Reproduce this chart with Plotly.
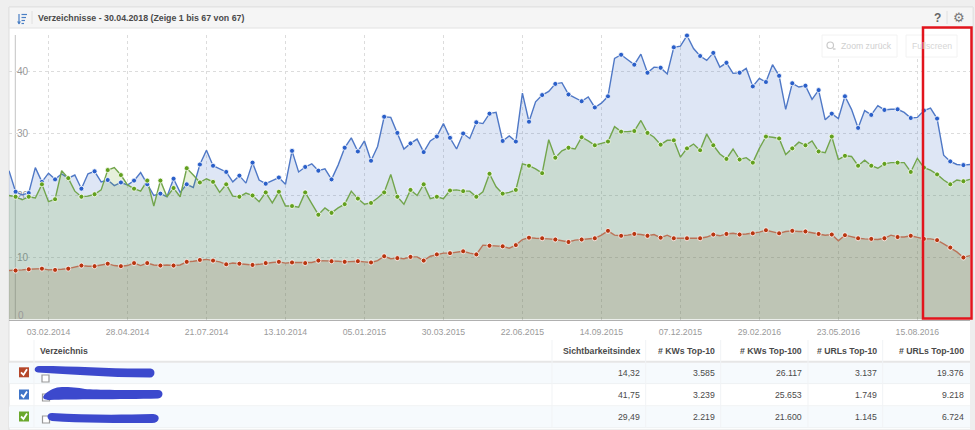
import pandas as pd
import plotly.graph_objects as go

W, H = 975, 430
START_DATE = "2013-12-23"

blue = [24.0,20.6,20.1,20.4,24.5,22.2,23.6,22.6,23.5,22.8,23.3,21.1,23.5,23.9,22.2,22.5,21.6,22.1,21.7,22.4,
        23.7,21.8,20.0,20.3,19.8,22.7,20.5,21.8,21.3,25.0,27.3,24.8,24.3,23.8,22.2,23.2,22.0,25.3,22.5,21.9,
        22.4,22.9,21.8,27.2,23.8,24.6,25.1,24.0,24.3,22.6,24.9,27.7,29.3,27.1,28.8,25.6,27.9,32.7,32.6,30.1,
        27.5,28.4,29.1,27.0,28.8,29.5,31.6,29.3,27.5,30.0,29.2,31.8,31.6,33.2,33.4,28.8,29.6,28.7,36.5,31.9,
        35.1,36.2,36.8,38.0,38.2,36.3,35.8,35.2,35.9,34.2,34.9,36.0,42.1,42.7,41.9,41.1,42.8,39.8,40.7,40.6,
        39.6,43.9,44.1,45.8,43.7,42.5,41.8,43.0,40.7,41.4,39.7,39.8,40.5,37.6,38.9,38.3,41.1,39.3,33.9,38.1,
        37.5,37.7,35.5,37.0,32.2,33.2,32.4,36.0,33.9,30.9,33.7,33.0,34.5,33.8,33.9,33.9,33.4,32.5,32.6,33.7,
        34.1,32.4,26.5,25.5,25.0,24.9,25.0]
green = [20.0,19.8,19.3,19.8,19.6,21.8,19.0,19.4,24.0,22.8,20.7,19.8,19.9,20.2,20.9,24.1,24.5,23.3,21.7,21.1,
         20.7,22.4,18.3,22.4,19.8,21.2,19.8,24.4,23.3,22.1,22.7,22.2,20.5,21.8,19.9,19.8,20.4,20.0,19.0,20.5,
         18.8,20.6,18.3,18.3,18.1,20.5,18.7,16.9,18.0,17.2,18.0,18.6,20.7,19.5,18.6,18.8,19.6,20.5,23.4,19.8,
         18.6,20.9,20.0,21.8,19.5,19.8,19.5,20.8,20.9,20.7,20.7,19.8,20.6,23.5,21.4,20.3,20.5,20.9,25.1,24.8,
         24.3,23.6,29.0,26.1,27.2,27.7,27.5,29.4,28.8,28.1,28.4,28.7,31.1,30.3,30.3,30.4,32.1,30.1,29.4,28.2,
         28.9,28.9,26.2,27.6,28.3,27.3,29.9,28.1,26.7,25.9,27.5,25.8,26.1,25.3,27.6,29.5,29.4,29.2,26.6,27.6,
         28.6,28.1,28.8,27.1,26.9,29.5,25.8,26.4,26.3,24.8,25.7,24.8,24.4,25.1,25.3,25.3,25.3,23.8,26.0,24.5,
         24.1,23.4,22.5,21.8,22.5,22.3,22.6]
red = [7.9,7.9,8.0,8.1,8.2,8.2,8.0,8.0,8.1,8.2,8.5,8.7,8.6,8.6,8.8,9.0,8.7,8.6,8.7,9.1,
       8.7,9.1,8.8,8.7,8.8,8.7,8.8,9.3,9.4,9.6,9.7,9.5,9.3,8.9,9.1,9.0,8.9,8.8,8.9,9.1,
       9.2,9.3,9.1,9.2,9.2,9.1,9.2,9.5,9.5,9.4,9.4,9.3,9.4,9.4,9.3,9.2,9.5,10.2,9.8,9.9,
       9.8,10.1,10.1,9.5,10.2,10.5,10.7,10.7,10.9,11.0,10.7,10.5,12.0,11.9,11.9,11.8,11.5,12.0,12.9,13.2,
       13.1,13.1,13.0,12.9,12.7,12.5,12.8,12.9,13.1,13.1,13.6,14.3,13.6,13.5,13.6,13.8,13.7,13.5,13.7,13.2,
       13.6,13.1,13.1,13.1,13.1,13.1,13.3,13.7,13.5,13.8,13.9,13.7,13.8,13.9,14.1,14.4,14.2,13.9,14.2,14.3,
       14.2,14.2,14.0,13.8,13.6,13.7,12.7,13.6,13.3,13.1,13.0,13.0,12.9,13.1,13.6,13.3,13.3,13.5,13.3,13.0,
       13.0,12.8,12.2,11.6,10.9,10.0,10.3]

x_tick_vals = ["2014-02-03","2014-04-28","2014-07-21","2014-10-13","2015-01-05","2015-03-30",
               "2015-06-22","2015-09-14","2015-12-07","2016-02-29","2016-05-23","2016-08-15"]
x_tick_text = ["03.02.2014","28.04.2014","21.07.2014","13.10.2014","05.01.2015","30.03.2015",
               "22.06.2015","14.09.2015","07.12.2015","29.02.2016","23.05.2016","15.08.2016"]
y_tick_vals = [10, 20, 30, 40]

title_text = "Verzeichnisse - 30.04.2018 (Zeige 1 bis 67 von 67)"
col_headers = ["Sichtbarkeitsindex", "# KWs Top-10", "# KWs Top-100", "# URLs Top-10", "# URLs Top-100"]
row1 = ["14,32", "3.585", "26.117", "3.137", "19.376"]
row2 = ["41,75", "3.239", "25.653", "1.749", "9.218"]
row3 = ["29,49", "2.219", "21.600", "1.145", "6.724"]

dates = pd.date_range(START_DATE, periods=len(blue), freq="7D")

FONT = "Liberation Sans, Arial, sans-serif"
px = lambda v: v / W
py = lambda v: 1 - v / H

fig = go.Figure()
series = [
    (blue, "rgba(61,107,196,0.17)", "#4f78c6", "#2a5fc9"),
    (green, "rgba(106,168,44,0.17)", "#72a54c", "#62a01e"),
    (red, "rgba(130,90,40,0.17)", "#bb7358", "#b8350f"),
]
for vals, fill, line, mark in series:
    fig.add_trace(go.Scatter(x=dates, y=vals, mode="lines", fill="tozeroy", fillcolor=fill,
                             line=dict(color=line, width=1.4), hoverinfo="skip", cliponaxis=False))
for vals, fill, line, mark in series:
    fig.add_trace(go.Scatter(x=dates[1::2], y=vals[1::2], mode="markers", cliponaxis=False, hoverinfo="skip",
                             marker=dict(size=5, color=mark, line=dict(color="white", width=0.8))))

shapes = []
annots = []


def rect(x0, y0, x1, y1, fill=None, line=None, lw=1, layer="below"):
    shapes.append(dict(type="rect", xref="paper", yref="paper", x0=px(x0), x1=px(x1), y0=py(y0), y1=py(y1),
                       fillcolor=fill or "rgba(0,0,0,0)", line=dict(color=line or "rgba(0,0,0,0)", width=lw if line else 0),
                       layer=layer))


def hline(x0, x1, y, color, lw=1, layer="below", dash=None):
    shapes.append(dict(type="line", xref="paper", yref="paper", x0=px(x0), x1=px(x1), y0=py(y), y1=py(y),
                       line=dict(color=color, width=lw, dash=dash or "solid"), layer=layer))


def vline(x, y0, y1, color, lw=1, layer="below", dash=None):
    shapes.append(dict(type="line", xref="paper", yref="paper", x0=px(x), x1=px(x), y0=py(y0), y1=py(y1),
                       line=dict(color=color, width=lw, dash=dash or "solid"), layer=layer))


def path(points, fill=None, line=None, lw=1, layer="above"):
    out = []
    for cmd, *co in points:
        xy = " ".join(f"{co[i]/W:.5f},{1-co[i+1]/H:.5f}" for i in range(0, len(co), 2))
        out.append(f"{cmd}{xy}")
    shapes.append(dict(type="path", xref="paper", yref="paper", path=" ".join(out) + (" Z" if fill else ""),
                       fillcolor=fill or "rgba(0,0,0,0)", line=dict(color=line or "rgba(0,0,0,0)", width=lw if line else 0),
                       layer=layer))


def text(x, y, s, size=8.7, color="#555555", anchor="left", bold=False):
    annots.append(dict(xref="paper", yref="paper", x=px(x), y=py(y), text=f"<b>{s}</b>" if bold else s,
                       showarrow=False, xanchor=anchor, yanchor="middle",
                       font=dict(family=FONT, size=size, color=color), borderpad=0, borderwidth=0))


# panel
rect(9, 7, 973, 430, fill="#ffffff", line="#dddddd")
rect(9, 7, 973, 28, fill="#f5f5f5", line="#e2e2e2")
rect(970, 319.5, 975, 430, fill="#eeeeee")
vline(32, 11, 24, "#e0e0e0")
vline(947, 11, 24, "#e0e0e0")
for y0, x1 in [(14, 27), (17, 26), (20, 25), (23, 24)]:
    hline(21.5, x1, y0 + 0.5, "#4a7fc4", 1.2, "above")
vline(19, 14, 24, "#4a7fc4", 1.2, "above")
path([("M", 17, 21.5), ("L", 19, 24.5), ("L", 21, 21.5)], fill="#4a7fc4")
text(38, 17.7, title_text, size=8.8, color="#4a4a4a", bold=True)
text(937, 18, "?", size=12, color="#666666", bold=True, anchor="center")
text(959, 18, "⚙", size=13, color="#777777", anchor="center")

vline(15.3, 35, 319, "#c4c4c4", 1)
rect(822, 35, 897, 57, fill="#ffffff", line="#f2f2f2", layer="above")
rect(906, 35, 957, 57, fill="#ffffff", line="#f2f2f2", layer="above")
shapes.append(dict(type="circle", xref="paper", yref="paper", x0=px(827), x1=px(833.5), y0=py(42), y1=py(48.5),
                   line=dict(color="#c9c9c9", width=1.2), layer="above"))
hline(833, 835.5, 49, "#c9c9c9", 1.4, "above")
text(841, 46, "Zoom zurück", size=8.7, color="#cfcfcf")
text(932, 46, "Fullscreen", size=8.7, color="#d6d6d6", anchor="center")

# table
rect(9, 362.5, 970, 383, fill="#f6fafd")
rect(9, 406.5, 970, 427.5, fill="#f6fafd")
hline(9, 970, 361.7, "#e6e6e6", 2)
hline(9, 970, 383.6, "#eef1f3")
hline(9, 970, 405.8, "#eef1f3")
hline(9, 970, 427.7, "#eef1f3")
for cx in [34, 552, 645.7, 720.7, 808, 882.7]:
    vline(cx, 340, 428, "#f1f3f5")
text(40, 351, "Verzeichnis", bold=True, color="#4a4a4a")
col_right = [640, 715, 802, 877, 964]
for r, h in zip(col_right, col_headers):
    text(r, 351, h, bold=True, color="#4a4a4a", anchor="right")
row_y = [372.7, 395, 417]
for y, row in zip(row_y, [row1, row2, row3]):
    for r, v in zip(col_right, row):
        text(r, y, v, color="#4a4a4a", anchor="right")

for y, c in zip([372.3, 394.5, 416.5], ["#b5472a", "#3f74c8", "#6aa82c"]):
    rect(19, y - 5, 29, y + 5, fill=c, layer="above")
    path([("M", 21, y), ("L", 23.5, y + 2.5), ("L", 27, y - 3)], line="#ffffff", lw=1.8)
for x0, y0 in [(42, 375), (42.5, 394), (42.5, 416)]:
    rect(x0, y0, x0 + 7, y0 + 7, fill="#ffffff", line="#999999", lw=1.2)
path([("M", 39, 366), ("C", 34, 366, 33, 372, 38, 372.5), ("C", 70, 374, 105, 377.5, 150, 377.5),
      ("C", 156, 377.5, 156, 368, 150, 368.5), ("C", 110, 369, 80, 366, 39, 366)], fill="#3c49cd")
path([("M", 62, 387), ("C", 55, 387, 50, 390, 45, 394), ("C", 41, 398, 44, 400, 50, 400),
      ("C", 70, 399, 120, 399.5, 158, 398.5), ("C", 164, 398, 164, 390, 158, 390),
      ("C", 130, 390, 95, 390, 85, 389), ("C", 78, 387.5, 70, 387, 62, 387)], fill="#3c49cd")
path([("M", 52, 413), ("C", 46, 413, 46, 420, 52, 421), ("C", 80, 423, 120, 423, 152, 423),
      ("C", 161, 423, 161, 413, 152, 414), ("C", 120, 415, 85, 415, 52, 413)], fill="#3c49cd")

text(21, 315, "0", size=10, color="#999999", anchor="center")
rect(923, 27.5, 971.5, 318.5, line="#e2141c", lw=2.5, layer="above")

fig.update_layout(
    width=W, height=H, showlegend=False, autosize=False,
    margin=dict(l=0, r=0, t=0, b=0),
    paper_bgcolor="#efefef", plot_bgcolor="rgba(0,0,0,0)",
    font=dict(family=FONT, color="#999999"),
    shapes=shapes, annotations=annots,
    xaxis=dict(domain=[9 / W, 970 / W], type="date", range=[dates[0], dates[-1]],
               tickmode="array", tickvals=x_tick_vals, ticktext=x_tick_text, tickangle=0,
               tickfont=dict(size=8.7, color="#9a9a9a", family=FONT), ticks="", ticklabelstandoff=4,
               showgrid=True, gridcolor="#dcdcdc", griddash="dot", gridwidth=1,
               showline=True, linecolor="#b0b0b0", linewidth=1, zeroline=False),
    yaxis=dict(domain=[1 - 319.5 / H, 1 - 34.5 / H], range=[0, (319.5 - 34.5) / 6.2],
               tickmode="array", tickvals=y_tick_vals, ticklabelposition="inside", ticks="",
               ticklabelstandoff=5, layer="below traces",
               tickfont=dict(size=10, color="#999999", family=FONT),
               showgrid=True, gridcolor="#dcdcdc", griddash="dot", gridwidth=1,
               showline=False, zeroline=False),
)
fig.write_html("out.html", config=dict(displayModeBar=False),
               post_script="document.body.style.margin='0';document.body.style.overflow='hidden';")
